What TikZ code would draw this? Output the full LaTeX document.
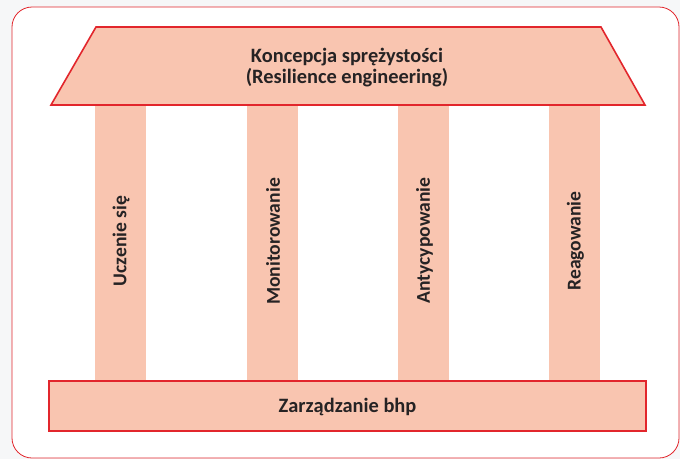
\documentclass[tikz,border=0pt]{standalone}
\usepackage{fontspec}
\setmainfont{Carlito}
\definecolor{frame}{HTML}{E2262C}
\definecolor{peach}{HTML}{F9C5B0}
\definecolor{ink}{HTML}{262324}
\definecolor{paper}{HTML}{F6F7F8}
\begin{document}
\begin{tikzpicture}[x=1pt,y=-1pt,
  outline/.style={draw=frame,line width=0.8pt,rounded corners=20pt},
  roofbox/.style={draw=frame,fill=peach,line width=1.6pt,line join=miter},
  pillar/.style={fill=peach},
  label/.style={text=ink,font=\bfseries\fontsize{20.4}{21.5}\selectfont,align=center,inner sep=0pt},
  pillarlabel/.style={text=ink,font=\bfseries\fontsize{19.6}{21}\selectfont,inner sep=0pt,rotate=90}]
  % page background and frame
  \fill[paper] (0,0) rectangle (680,459);
  \useasboundingbox (0,0) rectangle (680,459);
  \filldraw[outline,fill=white] (12,7) rectangle (679,458);
  % columns
  \fill[pillar] (95,105) rectangle (146,381);
  \fill[pillar] (247,105) rectangle (298,381);
  \fill[pillar] (398,105) rectangle (449,381);
  \fill[pillar] (549,105) rectangle (600,381);
  % roof and base
  \draw[roofbox] (96,27) -- (601,27) -- (645,105) -- (51,105) -- cycle;
  \draw[roofbox] (49,381) rectangle (646,431);
  % labels
  \node[label] (roof) at (347,67.5) {Koncepcja sprężystości\\(Resilience engineering)};
  \node[label] (base) at (347.5,407) {Zarządzanie bhp};
  \node[pillarlabel] (p1) at (121,241) {Uczenie się};
  \node[pillarlabel] (p2) at (273,241.5) {Monitorowanie};
  \node[pillarlabel] (p3) at (424.5,240.5) {Antycypowanie};
  \node[pillarlabel] (p4) at (575.5,241) {Reagowanie};
\end{tikzpicture}
\end{document}
